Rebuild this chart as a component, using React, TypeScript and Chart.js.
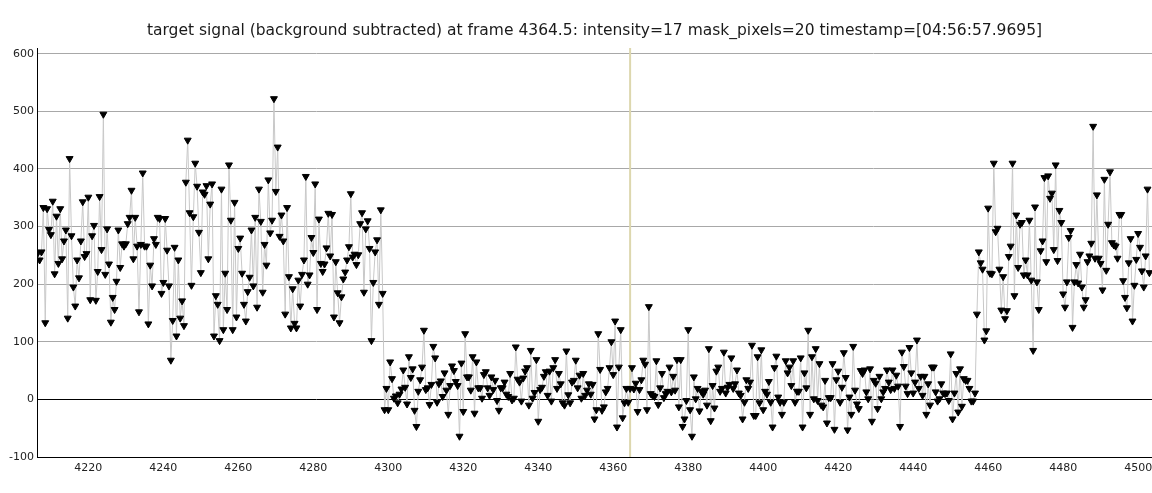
import React, { useEffect, useRef } from "react";
import { Chart, registerables } from "chart.js";

Chart.register(...registerables);

const titleText =
  "target signal (background subtracted) at frame 4364.5: intensity=17 mask_pixels=20 timestamp=[04:56:57.9695]";

const frameStart = 4206.5;
const frameStep = 0.5;
const cursorFrame = 4364.5;

const xMin = 4206.3;
const xMax = 4503.7;
const yMin = -100;
const yMax = 610;
const xTicks = [4220, 4240, 4260, 4280, 4300, 4320, 4340, 4360, 4380, 4400, 4420, 4440, 4460, 4480, 4500];
const yTicks = [-100, 0, 100, 200, 300, 400, 500, 600];

// frames 4206.5 .. ~4250
const segA = [254,242,256,333,133,331,295,286,344,218,318,236,331,244,275,294,141,418,284,195,162,242,211,275,343,248,253,351,173,284,302,172,222,352,260,495,217,296,235,134,177,156,205,294,229,270,266,270,305,316,363,244,316,266,152,269,393,266,266,131,233,197,279,269,316,314,184,203,314,259,197,68,137,264,110,242,141,171,128,377,450,324,198,317,410,370,290,220];
// frames ~4250 .. ~4298
const segB = [360,356,371,244,339,374,110,180,165,102,365,121,219,156,407,311,121,342,143,262,280,219,165,136,187,212,294,197,316,160,365,309,186,269,233,381,289,311,522,361,438,283,320,275,148,333,213,124,192,132,124,207,162,217,242,387,200,216,281,255,374,156,313,236,222,235,263,323,249,321,143,239,185,133,178,209,221,242,265,357,247,252,234,251,305,324,186,296,310,262,102,203,256,277,165,329,184];
// frames ~4299 .. ~4346
const segC = [-18,19,-18,65,36,2,6,-6,9,18,51,21,-8,74,38,53,-19,-47,14,34,56,120,17,20,-9,26,92,72,-5,27,32,5,46,16,-26,24,58,50,31,24,-64,63,-21,114,39,39,16,74,-24,65,20,20,2,43,48,20,7,39,17,33,-2,-19,20,20,30,9,5,45,-1,2,91,35,30,-3,37,49,55,-10,85,2,12,69,-38,17,21,40,48,7,49,-3,55,69,19,45,27];
// frames ~4346 .. ~4394
const segD = [-6,-10,84,8,-6,30,33,68,20,42,2,45,7,16,27,9,26,-34,-18,114,52,-19,-13,13,19,55,100,43,136,-48,56,121,-32,-6,19,-5,19,55,18,28,-21,17,34,68,61,-18,161,10,7,5,67,-9,20,45,3,10,14,56,13,40,16,69,-13,69,-47,-34,-2,121,-18,-64,39,1,19,-20,14,9,16,-10,88,-37,24,-15,49,56,14,19,82,11,21,26,72,19,27,51,11];
// frames ~4394 .. ~4442
const segE = [7,-34,-5,34,19,30,94,-28,-28,74,-6,86,-18,14,9,31,-5,-48,55,75,4,-5,-26,-5,67,46,56,24,67,-5,14,14,72,-48,46,20,120,-26,74,1,88,-2,62,-10,-13,33,-41,3,3,62,-52,34,49,-5,21,81,38,-53,4,-26,92,16,-8,-16,50,45,51,13,1,53,-38,33,28,-16,40,1,13,19,51,30,17,51,19,42,23,-47,82,57,23,10,90,46,11,30,103,19];
// frames ~4442 .. ~4458
const segF = [40,7,40,-26,27,-10,56,56,13,-3,1,27,11,10,11,-2,79,-34,11,45,-22,53,-12,36,33,33,19,-3,-3,11,148];
// frames ~4458 .. 4503.5
const segG = [256,237,226,103,119,332,219,218,410,291,297,226,155,213,140,154,248,266,410,180,320,229,304,307,216,242,216,311,207,85,334,204,156,258,275,385,239,388,349,358,260,407,241,328,307,183,160,204,281,293,125,204,234,202,252,195,160,173,239,249,271,474,245,355,245,236,190,382,224,304,395,272,268,266,245,321,321,206,177,159,237,279,136,198,243,288,264,223,195,249,365,220];

const signal = [...segA, ...segB, ...segC, ...segD, ...segE, ...segF, ...segG];
const frames = signal.map((_, i) => frameStart + i * frameStep);

const FONT = "'DejaVu Sans', Verdana, sans-serif";

export default function App() {
  const canvasRef = useRef<HTMLCanvasElement | null>(null);

  useEffect(() => {
    document.body.style.margin = "0";
    const canvas = canvasRef.current;
    if (!canvas) return;

    const cursorPlugin = {
      id: "cursorLine",
      beforeDatasetsDraw(chart: any) {
        const { ctx, chartArea, scales } = chart;
        const x = scales.x.getPixelForValue(cursorFrame);
        ctx.save();
        ctx.strokeStyle = "#ddd7ae";
        ctx.lineWidth = 2;
        ctx.beginPath();
        ctx.moveTo(x, chartArea.top);
        ctx.lineTo(x, chartArea.bottom);
        ctx.stroke();
        ctx.restore();
      },
      afterDraw(chart: any) {
        const { ctx, chartArea } = chart;
        ctx.save();
        ctx.fillStyle = "#1a1a1a";
        ctx.font = `15.5px ${FONT}`;
        ctx.textAlign = "center";
        ctx.textBaseline = "middle";
        ctx.fillText(titleText, (chartArea.left + chartArea.right) / 2, 31);
        ctx.restore();
      },
    };

    const chart = new Chart(canvas, {
      type: "line",
      data: {
        datasets: [
          {
            data: frames.map((f, i) => ({ x: f, y: signal[i] })),
            borderColor: "#c8c8c8",
            borderWidth: 1,
            pointStyle: "triangle",
            rotation: 180,
            pointRadius: 4,
            pointBackgroundColor: "#000",
            pointBorderColor: "#000",
            pointBorderWidth: 1,
            tension: 0,
          },
        ],
      },
      options: {
        animation: false,
        responsive: false,
        maintainAspectRatio: false,
        layout: { autoPadding: false, padding: { top: 48, left: 0, right: 0, bottom: 0 } },
        plugins: {
          legend: { display: false },
          tooltip: { enabled: false },
          title: { display: false },
        },
        scales: {
          x: {
            type: "linear",
            min: xMin,
            max: xMax,
            border: { display: true, color: "#000", width: 1 },
            grid: { drawOnChartArea: false, drawTicks: false },
            afterBuildTicks: (scale: any) => {
              scale.ticks = xTicks.map((v) => ({ value: v }));
            },
            ticks: {
              color: "#222",
              font: { family: FONT, size: 11 },
              padding: 5,
              maxRotation: 0,
              autoSkip: false,
              callback: (v: any) => String(v),
            },
            afterFit: (scale: any) => {
              scale.height = 36;
              scale.paddingLeft = 0;
              scale.paddingRight = 0;
            },
          },
          y: {
            type: "linear",
            min: yMin,
            max: yMax,
            border: { display: true, color: "#000", width: 1 },
            grid: {
              drawTicks: false,
              color: (ctx: any) => (ctx.tick && ctx.tick.value === 0 ? "#000" : "#a8a8a8"),
              lineWidth: 1,
            },
            afterBuildTicks: (scale: any) => {
              scale.ticks = yTicks.map((v) => ({ value: v }));
            },
            ticks: {
              color: "#222",
              font: { family: FONT, size: 11 },
              padding: 3,
              autoSkip: false,
              callback: (v: any) => String(v),
            },
            afterFit: (scale: any) => {
              scale.width = 37;
              scale.paddingTop = 0;
              scale.paddingBottom = 0;
            },
          },
        },
      },
      plugins: [cursorPlugin],
    });

    return () => chart.destroy();
  }, []);

  return (
    <div style={{ position: "absolute", left: 0, top: 0, width: 1152, height: 493, background: "#fff" }}>
      <canvas ref={canvasRef} width={1152} height={493} style={{ width: 1152, height: 493 }} />
    </div>
  );
}
